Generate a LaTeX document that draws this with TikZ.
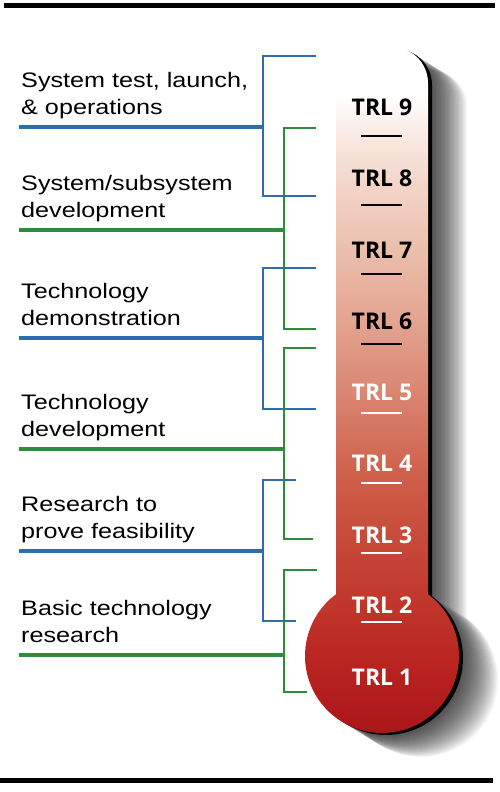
\documentclass[tikz,border=0pt]{standalone}
\usepackage{fontspec}
\setmainfont{Liberation Sans}[FakeStretch=1.2]
\newfontfamily\trlfont{Open Sans}
\usetikzlibrary{positioning}
\definecolor{phaseblue}{HTML}{2C6DB2}
\definecolor{phasegreen}{HTML}{2F8A3A}
\definecolor{th0}{HTML}{A81418}
\definecolor{th1}{HTML}{B92320}
\definecolor{th2}{HTML}{C0352A}
\definecolor{th3}{HTML}{C74838}
\definecolor{th4}{HTML}{CF624C}
\definecolor{th5}{HTML}{D98470}
\definecolor{th6}{HTML}{E2A28E}
\definecolor{th7}{HTML}{EBBDAB}
\definecolor{th8}{HTML}{F3D6C9}
\definecolor{th9}{HTML}{FBEEE8}
\pgfdeclareverticalshading{thermofill}{100bp}{color(0bp)=(th0); color(25bp)=(th0);
  color(30.6bp)=(th1); color(34.7bp)=(th2); color(39.4bp)=(th3); color(44.6bp)=(th4);
  color(49.9bp)=(th5); color(55bp)=(th6); color(60.2bp)=(th7); color(65.3bp)=(th8);
  color(69.3bp)=(th9); color(71.5bp)=(white); color(100bp)=(white)}
% outline of tube and bulb
\newcommand{\thermopath}{(336,594.25) -- (336,83) arc[start angle=180,end angle=270,radius=36]
  -- (392,47) arc[start angle=270,end angle=360,radius=36]
  -- (428,594.25) arc[start angle=-53.3,end angle=233.3,radius=77] -- cycle}

\begin{document}
\begin{tikzpicture}[x=1pt,y=-1pt,
    phase/.style={anchor=base west,align=left,inner sep=0pt,font=\fontsize{21}{27}\selectfont},
    trl/.style={inner sep=0pt,font=\trlfont\bfseries\fontsize{23}{23}\selectfont},
    stem/.style={line width=2pt},
    underline/.style={line width=4pt},
    tick/.style={line width=2.5pt}]
    \useasboundingbox (0,0) rectangle (500,792);
    \draw[line width=4.5pt] (4,5.5) -- (495,5.5);
    \draw[line width=4.5pt] (0,780.5) -- (493,780.5);
    % thermometer with shadow
    \foreach \s in {1,...,30} { \fill[black,opacity=0.04,shift={(1.3*\s,0.8*\s)}] \thermopath; }
    \fill[black,shift={(4,2)}] \thermopath;
    \shade[shading=thermofill] \thermopath;
    \foreach \n/\y/\c in {9/107/black,8/178/black,7/250/black,6/321/black,5/392/white,4/463/white,3/535/white,2/605/white,1/677/white}
      { \node[trl,text=\c] (trl\n) at (382,\y) {TRL \n}; }
    \foreach \n/\y/\c in {9/136/black,8/205/black,7/274/black,6/344/black,5/413/white,4/483/white,3/553/white,2/622/white}
      { \draw[tick,\c] (361,\y) -- (402,\y); }
    % phases
    \node[phase] (ops)   at (21,114) {System test, launch,\\\& operations};
    \node[phase] (sys)   at (21,217) {System/subsystem\\development};
    \node[phase] (demo)  at (21,325) {Technology\\demonstration};
    \node[phase] (devel) at (21,436) {Technology\\development};
    \node[phase] (feas)  at (21,538) {Research to\\prove feasibility};
    \node[phase] (basic) at (21,642) {Basic technology\\research};
    \foreach \i/\top/\bot/\mid/\tip in {1/56/196/127/316,3/268/409/338/316,5/480/621/551/296} {
      \coordinate (u\i) at (19,\mid);
      \coordinate (s\i) at (263,\mid);
      \draw[stem,phaseblue] (\tip,\top) -- (263,\top) -- (263,\bot) -- (\tip,\bot);
      \draw[underline,phaseblue] (u\i) -- (s\i);
    }
    \foreach \i/\top/\bot/\mid/\tipa/\tipb in {2/128/329/230/316/316,4/348/539/449/316/313,6/570/692/655/317/307} {
      \coordinate (u\i) at (19,\mid);
      \coordinate (s\i) at (284,\mid);
      \draw[stem,phasegreen] (\tipa,\top) -- (284,\top) -- (284,\bot) -- (\tipb,\bot);
      \draw[underline,phasegreen] (u\i) -- (s\i);
    }
\end{tikzpicture}
\end{document}
